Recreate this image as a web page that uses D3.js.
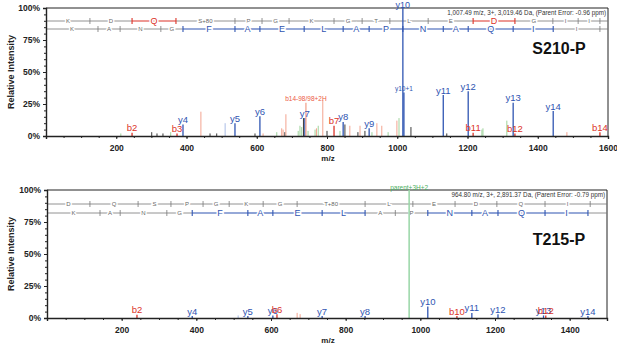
<!DOCTYPE html>
<html>
<head>
<meta charset="utf-8">
<script src="https://cdn.jsdelivr.net/npm/d3@7/dist/d3.min.js"></script>
<style>
body { margin: 0; background: #fff; }
svg { display: block; font-family: "Liberation Sans", Arial, sans-serif; }
</style>
</head>
<body>
<div id="chart"></div>
<script>
// ---- data ----
let topTitle = "S210-P";
let topHeader = "1,007.49 m/z, 3+, 3,019.46 Da,  (Parent Error: -0.96 ppm)";
let topTicksX = [200, 400, 600, 800, 1000, 1200, 1400, 1600];
// labelled fragment ions: [label, m/z, intensity %]
let topIons = [
	["b2", 245, 2.5], ["b3", 373, 2], ["y4", 390, 9], ["y5", 538, 10], ["y6", 609, 15.5],
	["y7", 737, 14], ["b7", 820, 8], ["y8", 846, 11], ["y9", 920, 6], ["y10+1", 1019, 34],
	["y10", 1016, 100], ["y11", 1131, 32], ["y12", 1202, 35], ["b11", 1216, 2.5],
	["y13", 1330, 26], ["b12", 1335, 2], ["y14", 1444, 19.5], ["b14", 1577, 3],
	["b14-98/98+2H", 740, 26]
];
// unlabelled peaks: [m/z, intensity %, kind]
let topOther = [
	[213, 2, "g"], [301, 3, "k"], [316, 2, "k"], [333, 2, "k"], [355, 3, "g"], [441, 19, "lr"],
	[467, 2, "k"], [486, 2, "k"], [510, 10, "lb"], [595, 2, "k"], [618, 2, "lr"], [657, 3, "g"],
	[671, 6, "lr"], [675, 5, "lr"], [680, 3, "k"], [683, 17, "lr"], [718, 4, "g"], [723, 8, "g"],
	[728, 7, "g"], [733, 14, "k"], [746, 4, "g"], [766, 5, "g"], [770, 6, "lr"], [775, 8, "g"],
	[788, 28, "lr"], [800, 4, "k"], [837, 4, "g"], [851, 9, "k"], [865, 8, "lr"], [888, 3, "k"],
	[894, 8, "lr"], [908, 4, "k"], [928, 3, "g"], [942, 10, "lr"], [956, 8, "lr"], [974, 3, "g"],
	[999, 12, "lr"], [1005, 14, "g"], [1039, 7, "k"], [1141, 2, "k"], [1241, 5, "g"],
	[1244, 6, "g"], [1312, 12, "g"], [1483, 3, "lr"]
];
// sequence rows: tick m/z, residues, highlighted residue indexes
let topSeqBTicks = [125, 245, 370, 538, 615, 692, 820, 900, 979, 1088, 1216, 1335, 1443, 1515, 1577];
let topSeqB = ["K", "D", "Q", "S+80", "P", "G", "K", "G", "T", "L", "E", "D", "G", "I", "I", ""];
let topSeqBHit = [2, 11];
let topSeqYTicks = [148, 211, 327, 390, 538, 609, 735, 846, 920, 1016, 1131, 1202, 1330, 1444, 1577];
let topSeqY = ["K", "A", "N", "G", "F", "A", "E", "L", "A", "P", "N", "A", "Q", "I", "I", ""];
let topSeqYHit = [4, 5, 6, 7, 8, 9, 10, 11, 12, 13];

let botTitle = "T215-P";
let botHeader = "964.80 m/z, 3+, 2,891.37 Da,  (Parent Error: -0.79 ppm)";
let botTicksX = [200, 400, 600, 800, 1000, 1200, 1400];
let botIons = [
	["b2", 241, 2.5], ["y4", 389, 1.5], ["y5", 538, 1.5], ["y6", 605, 2], ["b6", 616, 3],
	["y7", 737, 1.5], ["y8", 852, 1.5], ["y10", 1020, 9], ["b10", 1098, 1.5], ["y11", 1138, 4],
	["y12", 1208, 3], ["y13", 1330, 2], ["b12", 1336, 2], ["y14", 1449, 1.5],
	["parent+3H+2", 970, 100]
];
let botOther = [[512, 2, "lb"], [670, 4, "lr"], [678, 3, "lr"]];
let botSeqBTicks = [115, 244, 332, 418, 488, 579, 670, 852, 980, 1093, 1205, 1334, 1455];
let botSeqB = ["D", "Q", "S", "P", "G", "K", "G", "T+80", "L", "E", "D", "Q", "I", ""];
let botSeqBHit = [];
let botSeqYTicks = [142, 196, 321, 389, 538, 605, 737, 852, 933, 1020, 1138, 1208, 1334, 1449];
let botSeqY = ["K", "A", "N", "G", "F", "A", "E", "L", "A", "P", "N", "A", "Q", "I", ""];
let botSeqYHit = [4, 5, 6, 7, 10, 11, 12, 13];

let yTicks = [0, 25, 50, 75, 100];

// ---- drawing ----
let colors = {
	y: "#2f55b2", b: "#dc3328", lr: "#f3a48f", lb: "#a9bde6",
	g: "#9fd39c", k: "#3b3b3b", p: "#98d6a6", gray: "#666"
};

let svg = d3.select("#chart").append("svg")
	.attr("width", 617)
	.attr("height", 356);

function ionKind(label) {
	if (label.startsWith("parent")) return "p";
	if (label.startsWith("b14-")) return "lr";
	return label[0] === "y" ? "y" : "b";
}

function drawPanel(p) {
	let x = d3.scaleLinear().domain(p.domain).range([p.left, p.right]);
	let y = d3.scaleLinear().domain([0, 100]).range([p.bottom, p.top]);
	let g = svg.append("g");

	// frame top + right
	g.append("path")
		.attr("d", `M${p.left},${p.top}H${p.right}V${p.bottom}`)
		.attr("fill", "none")
		.attr("stroke", "#222")
		.attr("stroke-width", 1);

	// sequence rows
	function seqRow(ticks, letters, hit, rowY, col) {
		let bounds = [p.domain[0]].concat(ticks, [p.domain[1]]);
		let segs = letters.map((l, i) => ({
			l: l, a: bounds[i], b: bounds[i + 1], hit: hit.indexOf(i) >= 0
		}));
		let r = g.append("g");
		r.selectAll("line.seg").data(segs).enter().append("line")
			.attr("class", "seg")
			.attr("x1", d => x(d.a)).attr("x2", d => x(d.b))
			.attr("y1", rowY).attr("y2", rowY)
			.attr("stroke", d => d.hit ? col : "#777")
			.attr("stroke-width", d => d.hit ? 1.1 : 0.8);
		let tk = ticks.map((t, i) => ({ t: t, hit: segs[i].hit || segs[i + 1].hit }));
		r.selectAll("line.tk").data(tk).enter().append("line")
			.attr("class", "tk")
			.attr("x1", d => x(d.t)).attr("x2", d => x(d.t))
			.attr("y1", rowY - 3).attr("y2", rowY + 3)
			.attr("stroke", d => d.hit ? col : "#777")
			.attr("stroke-width", d => d.hit ? 1.1 : 0.8);
		r.selectAll("text").data(segs.filter(d => d.l)).enter().append("text")
			.attr("x", d => (x(d.a) + x(d.b)) / 2)
			.attr("y", rowY)
			.attr("dy", "0.35em")
			.attr("text-anchor", "middle")
			.attr("font-size", d => d.hit ? 9 : 6)
			.attr("fill", d => d.hit ? col : "#666")
			.attr("stroke", "#fff")
			.attr("stroke-width", 3)
			.attr("paint-order", "stroke")
			.text(d => d.l);
	}
	seqRow(p.seqBTicks, p.seqB, p.seqBHit, p.rowB, colors.b);
	seqRow(p.seqYTicks, p.seqY, p.seqYHit, p.rowY, colors.y);

	// unlabelled peaks
	g.selectAll("line.other").data(p.other).enter().append("line")
		.attr("class", "other")
		.attr("x1", d => x(d[0])).attr("x2", d => x(d[0]))
		.attr("y1", y(0)).attr("y2", d => y(d[1]))
		.attr("stroke", d => colors[d[2]])
		.attr("stroke-width", 1);

	// labelled peaks
	let ions = p.ions.map(d => ({ label: d[0], mz: d[1], v: d[2], kind: ionKind(d[0]) }));
	g.selectAll("line.ion").data(ions).enter().append("line")
		.attr("class", "ion")
		.attr("x1", d => x(d.mz)).attr("x2", d => x(d.mz))
		.attr("y1", y(0)).attr("y2", d => y(d.v))
		.attr("stroke", d => colors[d.kind])
		.attr("stroke-width", d => d.kind === "p" ? 1.5 : 1.3);
	g.selectAll("text.ion").data(ions).enter().append("text")
		.attr("class", "ion")
		.attr("x", d => x(d.mz))
		.attr("y", d => d.v >= 100 ? y(d.v) - 0.5 : y(d.v) - 1.5)
		.attr("text-anchor", "middle")
		.attr("font-size", d => d.label.length > 4 ? 6.5 : (d.v >= 100 ? 9 : 9.5))
		.attr("fill", d => d.kind === "p" ? "#4caf60" : d.kind === "lr" ? "#ec5a44" : colors[d.kind])
		.text(d => d.label);

	// axes
	let xAxis = d3.axisBottom(x).tickValues(p.ticksX).tickSize(3).tickFormat(d3.format("d"));
	let xa = g.append("g").attr("transform", `translate(0,${p.bottom})`).call(xAxis);
	xa.select(".domain").attr("stroke", "#222").attr("stroke-width", 1.4);
	xa.selectAll(".tick line").attr("stroke", "#222");
	xa.selectAll("text").attr("font-size", 8.5).attr("font-weight", "bold").attr("fill", "#222")
		.attr("y", 15).attr("dy", 0);
	let xm = g.append("g").attr("transform", `translate(0,${p.bottom})`)
		.call(d3.axisBottom(x).tickValues(d3.range(50, p.domain[1], 50)).tickSize(2).tickFormat(""));
	xm.select(".domain").remove();
	xm.selectAll("line").attr("stroke", "#222");

	let yAxis = d3.axisLeft(y).tickValues(yTicks).tickSize(3).tickFormat(d => d + "%");
	let ya = g.append("g").attr("transform", `translate(${p.left},0)`).call(yAxis);
	ya.select(".domain").attr("stroke", "#222").attr("stroke-width", 1.4);
	ya.selectAll(".tick line").attr("stroke", "#222");
	ya.selectAll("text").attr("font-size", 8.5).attr("font-weight", "bold").attr("fill", "#222");
	let ym = g.append("g").attr("transform", `translate(${p.left},0)`)
		.call(d3.axisLeft(y).tickValues(d3.range(5, 100, 5)).tickSize(2).tickFormat(""));
	ym.select(".domain").remove();
	ym.selectAll("line").attr("stroke", "#222");

	g.append("text")
		.attr("transform", `translate(14,${(p.top + p.bottom) / 2}) rotate(-90)`)
		.attr("text-anchor", "middle")
		.attr("font-size", 9)
		.attr("font-weight", "bold")
		.attr("fill", "#222")
		.text("Relative Intensity");
	g.append("text")
		.attr("x", 328).attr("y", p.bottom + 25)
		.attr("text-anchor", "middle")
		.attr("font-size", 8)
		.attr("font-weight", "bold")
		.attr("fill", "#222")
		.text("m/z");

	g.append("text")
		.attr("x", p.right - 2).attr("y", p.top + 7)
		.attr("text-anchor", "end")
		.attr("font-size", 6.3)
		.attr("fill", "#333")
		.text(p.header);
	g.append("text")
		.attr("x", 559).attr("y", p.titleY)
		.attr("text-anchor", "middle")
		.attr("font-size", 16)
		.attr("font-weight", "bold")
		.attr("fill", "#111")
		.text(p.title);
}

drawPanel({
	domain: [0, 1600], left: 46, right: 608, top: 8, bottom: 136,
	ticksX: topTicksX, ions: topIons, other: topOther,
	seqBTicks: topSeqBTicks, seqB: topSeqB, seqBHit: topSeqBHit,
	seqYTicks: topSeqYTicks, seqY: topSeqY, seqYHit: topSeqYHit,
	rowB: 21, rowY: 29, header: topHeader, title: topTitle, titleY: 54
});
drawPanel({
	domain: [0, 1500], left: 47, right: 607, top: 190, bottom: 318,
	ticksX: botTicksX, ions: botIons, other: botOther,
	seqBTicks: botSeqBTicks, seqB: botSeqB, seqBHit: botSeqBHit,
	seqYTicks: botSeqYTicks, seqY: botSeqY, seqYHit: botSeqYHit,
	rowB: 204, rowY: 213, header: botHeader, title: botTitle, titleY: 245
});
</script>
</body>
</html>
